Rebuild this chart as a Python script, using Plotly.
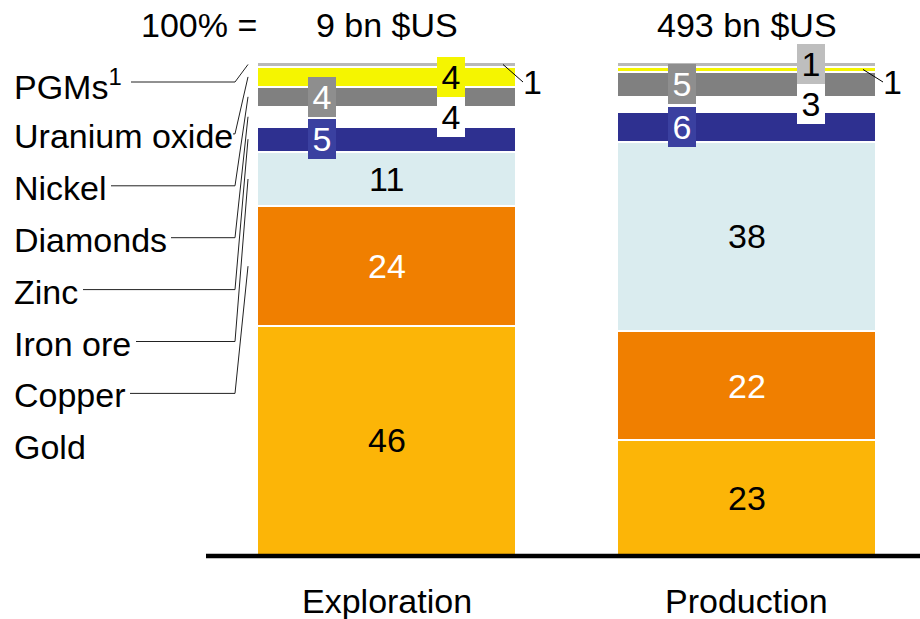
import plotly.graph_objects as go

# ---- data -------------------------------------------------------------
categories = ["Exploration", "Production"]
totals = ["9 bn $US", "493 bn $US"]
commodities = ["Gold", "Copper", "Iron ore", "Zinc", "Diamonds",
               "Nickel", "Uranium oxide", "PGMs"]
exploration = [46, 24, 11, 5, 4, 4, 4, 1]
production = [23, 22, 38, 6, 3, 5, 1, 1]

# ---- styling ----------------------------------------------------------
FONT = "Arial, Liberation Sans, sans-serif"
FS = 34
W, H = 920, 619

seg_color = {
    "Gold": "#FCB507", "Copper": "#F07F00", "Iron ore": "#DAECEF",
    "Zinc": "#2E3090", "Diamonds": "#FFFFFF", "Nickel": "#808080",
    "Uranium oxide": "#F5F500", "PGMs": "#B9B9B9",
}
box_color = {
    "Zinc": "#3A40A0", "Nickel": "#8E8E8E", "Uranium oxide": "#F5F500",
    "Diamonds": "#FFFFFF", "PGMs": "#BEBEBE",
}
txt_color = {c: "black" for c in commodities}
for c in ("Copper", "Zinc", "Nickel"):
    txt_color[c] = "white"

# how each value label is placed: centre of segment, offset box left/right,
# or outside the bar with a short leader
placement = [
    {"Gold": "c", "Copper": "c", "Iron ore": "c", "Zinc": "L", "Diamonds": "R",
     "Nickel": "L", "Uranium oxide": "R", "PGMs": "out"},
    {"Gold": "c", "Copper": "c", "Iron ore": "c", "Zinc": "L", "Diamonds": "R",
     "Nickel": "L", "Uranium oxide": "out", "PGMs": "R"},
]

# pixel <-> data mapping (plot area fills the whole page)
X0_PX, X_SCALE = 386.5, 360.0
Y0_PX, Y_SCALE = 555.0, 4.98
def px_x(p):
    return (p - X0_PX) / X_SCALE
def px_y(p):
    return (Y0_PX - p) / Y_SCALE

BAR_W = 259 / X_SCALE
BOX_OFF = 0.18

series = [exploration, production]

fig = go.Figure()
for i, c in enumerate(commodities):
    fig.add_trace(go.Bar(
        x=[0, 1], y=[exploration[i], production[i]], name=c, width=BAR_W,
        marker=dict(color=seg_color[c], line=dict(color="white", width=2)),
        hoverinfo="name+y",
    ))

annotations = []
shapes = []

# value labels
for b, vals in enumerate(series):
    base = 0
    for i, c in enumerate(commodities):
        v = vals[i]
        mid = base + v / 2
        mode = placement[b][c]
        if mode == "c":
            annotations.append(dict(x=b, y=mid, text=str(v), showarrow=False,
                                    font=dict(size=FS, color=txt_color[c], family=FONT)))
        elif mode in ("L", "R"):
            off = -BOX_OFF if mode == "L" else BOX_OFF
            annotations.append(dict(x=b + off, y=mid, text=str(v), showarrow=False,
                                    bgcolor=box_color[c], borderwidth=0, borderpad=4,
                                    width=20, height=32, valign="middle",
                                    font=dict(size=FS, color=txt_color[c], family=FONT)))
        else:
            right = b + BAR_W / 2
            shapes.append(dict(type="line", xref="x", yref="y",
                               x0=right - 13 / X_SCALE, y0=mid,
                               x1=right + 7 / X_SCALE, y1=px_y(82),
                               line=dict(color="black", width=1)))
            annotations.append(dict(x=right + 16 / X_SCALE, y=px_y(82), text=str(v),
                                    showarrow=False,
                                    font=dict(size=FS, color="black", family=FONT)))
        base += v

# category labels and totals
for b, (cat, tot) in enumerate(zip(categories, totals)):
    annotations.append(dict(x=b, y=px_y(601), text=cat, showarrow=False,
                            font=dict(size=FS, color="black", family=FONT)))
    annotations.append(dict(x=b, y=px_y(25), text=tot, showarrow=False,
                            font=dict(size=FS, color="black", family=FONT)))
annotations.append(dict(x=px_x(259), y=px_y(25), text="100% =", showarrow=False,
                        xanchor="right",
                        font=dict(size=FS, color="black", family=FONT)))

# commodity key on the left, with leaders to the exploration bar
leader_start = {"PGMs": 131, "Uranium oxide": 233, "Nickel": 111, "Diamonds": 171,
                "Zinc": 83, "Iron ore": 136, "Copper": 130}
key_order = commodities[::-1]
mids = {}
acc = 0
for i, c in enumerate(commodities):
    mids[c] = acc + exploration[i] / 2
    acc += exploration[i]
for k, c in enumerate(key_order):
    ypx = 84 + k * 51.9
    label = "PGMs<sup>1</sup>" if c == "PGMs" else c
    annotations.append(dict(x=px_x(12), y=px_y(ypx), text=label, showarrow=False,
                            xanchor="left",
                            font=dict(size=FS, color="black", family=FONT)))
    if c in leader_start:
        ly = px_y(ypx - 2)
        path = "M {} {} L {} {} L {} {}".format(
            px_x(leader_start[c]), ly, px_x(235), ly, px_x(248), mids[c])
        shapes.append(dict(type="path", xref="x", yref="y", path=path,
                           line=dict(color="#222222", width=1)))

# baseline
shapes.append(dict(type="line", xref="x", yref="y", x0=px_x(206), x1=px_x(925),
                   y0=px_y(556), y1=px_y(556), line=dict(color="black", width=4.5)))

fig.update_layout(
    barmode="stack", width=W, height=H, showlegend=False,
    margin=dict(l=0, r=0, t=0, b=0),
    paper_bgcolor="white", plot_bgcolor="white",
    xaxis=dict(range=[px_x(0), px_x(W)], visible=False, fixedrange=True),
    yaxis=dict(range=[px_y(H), px_y(0)], visible=False, fixedrange=True),
    annotations=annotations, shapes=shapes,
    font=dict(family=FONT),
)

fig.write_html("out.html")
